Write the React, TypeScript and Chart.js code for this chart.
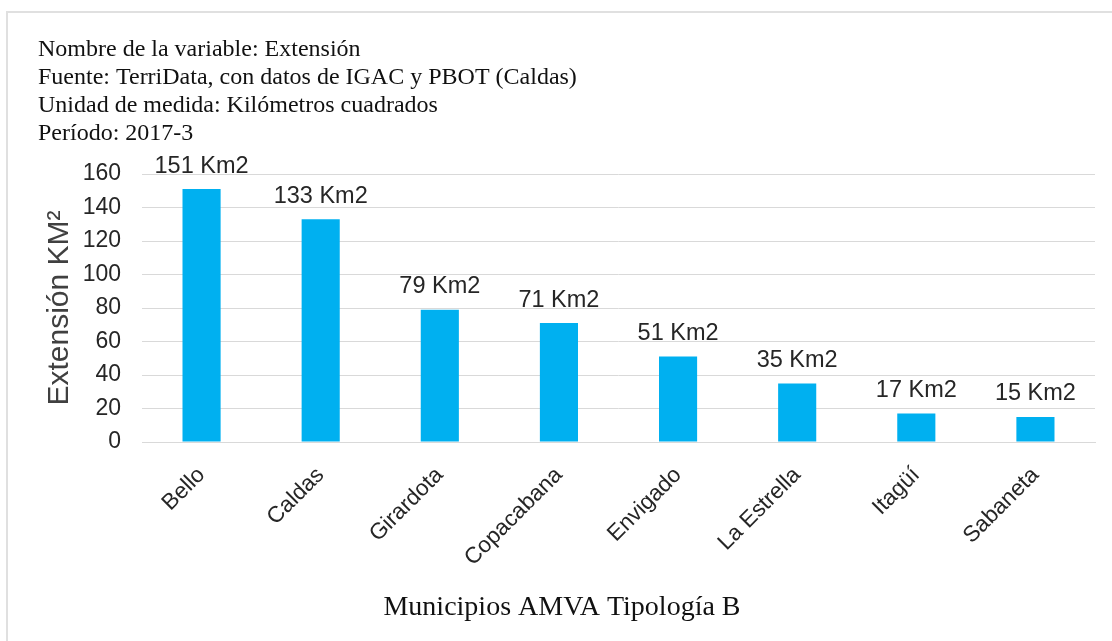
import React, { useEffect, useRef } from "react";
import { Chart, registerables } from "chart.js";

Chart.register(...registerables);

const categories = ["Bello", "Caldas", "Girardota", "Copacabana", "Envigado", "La Estrella", "Itagüí", "Sabaneta"];
const values = [151, 133, 79, 71, 51, 35, 17, 15];
const valueLabels = ["151 Km2", "133 Km2", "79 Km2", "71 Km2", "51 Km2", "35 Km2", "17 Km2", "15 Km2"];
const headerLines = [
  "Nombre de la variable: Extensión",
  "Fuente: TerriData, con datos de IGAC y PBOT (Caldas)",
  "Unidad de medida: Kilómetros cuadrados",
  "Período: 2017-3",
];
const yTitle = "Extensión KM²";
const xTitle = "Municipios AMVA Tipología B";
const yMin = 0;
const yMax = 160;
const yStep = 20;

const SANS = "'Liberation Sans', Arial, sans-serif";
const SERIF = "'Liberation Serif', 'Times New Roman', serif";

const decorPlugin = {
  id: "decor",
  beforeDraw(chart: any) {
    const ctx = chart.ctx;
    ctx.save();
    ctx.fillStyle = "#ffffff";
    ctx.fillRect(0, 0, chart.width, chart.height);
    ctx.strokeStyle = "#e0e0e0";
    ctx.lineWidth = 2;
    ctx.beginPath();
    ctx.moveTo(7, chart.height);
    ctx.lineTo(7, 12);
    ctx.lineTo(chart.width, 12);
    ctx.stroke();
    ctx.restore();
  },
  afterDatasetsDraw(chart: any) {
    const ctx = chart.ctx;
    const meta = chart.getDatasetMeta(0);
    ctx.save();
    ctx.font = `23.5px ${SANS}`;
    ctx.fillStyle = "#262626";
    ctx.textAlign = "center";
    ctx.textBaseline = "middle";
    meta.data.forEach((bar: any, i: number) => {
      ctx.fillText(valueLabels[i], bar.x, bar.y - 23);
    });
    ctx.restore();
  },
  afterDraw(chart: any) {
    const ctx = chart.ctx;
    ctx.save();
    ctx.fillStyle = "#111111";
    ctx.font = `24px ${SERIF}`;
    ctx.textAlign = "left";
    ctx.textBaseline = "alphabetic";
    headerLines.forEach((line, i) => {
      ctx.fillText(line, 38, 56 + i * 28);
    });
    ctx.font = `28px ${SERIF}`;
    ctx.textAlign = "center";
    ctx.fillText(xTitle, 562, 615);
    ctx.translate(60, 308);
    ctx.rotate(-Math.PI / 2);
    ctx.font = `30px ${SANS}`;
    ctx.fillStyle = "#404040";
    ctx.textBaseline = "middle";
    ctx.fillText(yTitle, 0, 0);
    ctx.restore();
  },
};

export default function App() {
  const ref = useRef<HTMLCanvasElement | null>(null);
  useEffect(() => {
    if (!ref.current) return;
    const chart = new Chart(ref.current, {
      type: "bar",
      data: {
        labels: categories,
        datasets: [
          {
            data: values,
            backgroundColor: "#00B0F0",
            borderWidth: 0,
            barPercentage: 0.32,
            categoryPercentage: 1,
          },
        ],
      },
      options: {
        responsive: false,
        animation: false,
        layout: { padding: { left: 0, top: 174, right: 17, bottom: 0 } },
        plugins: {
          legend: { display: false },
          title: { display: false },
          tooltip: { enabled: false },
        },
        scales: {
          x: {
            grid: { display: false, drawTicks: false },
            border: { display: true, color: "#d9d9d9", width: 1 },
            ticks: {
              autoSkip: false,
              minRotation: 45,
              maxRotation: 45,
              padding: 20,
              color: "#262626",
              font: { family: SANS, size: 22.5 },
            },
            afterFit(scale: any) {
              scale.height = 199;
            },
          },
          y: {
            min: yMin,
            max: yMax,
            grid: { color: "#d9d9d9", drawTicks: false },
            border: { display: false },
            ticks: {
              stepSize: yStep,
              padding: 21,
              color: "#262626",
              font: { family: SANS, size: 23 },
            },
            afterFit(scale: any) {
              scale.width = 142;
            },
          },
        },
      },
      plugins: [decorPlugin],
    });
    return () => chart.destroy();
  }, []);
  return (
    <div style={{ position: "absolute", left: 0, top: 0, width: 1112, height: 641 }}>
      <canvas ref={ref} width={1112} height={641} style={{ display: "block" }} />
    </div>
  );
}
